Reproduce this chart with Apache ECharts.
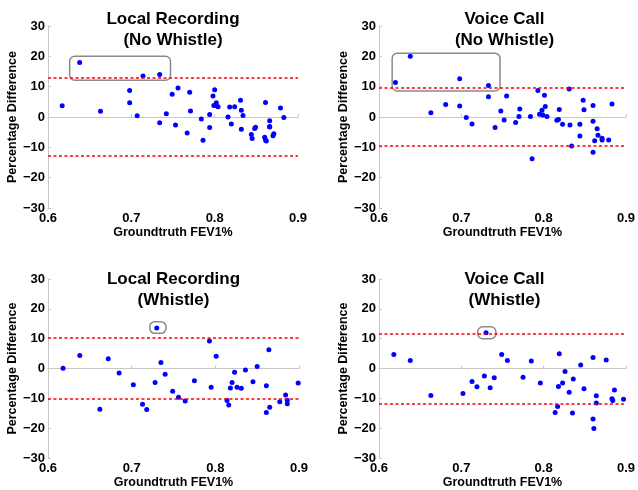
<!DOCTYPE html>
<html>
<head>
<meta charset="utf-8">
<script src="https://cdn.jsdelivr.net/npm/echarts@6/dist/echarts.min.js"></script>
<style>
  html, body { margin: 0; padding: 0; background: #fff; }
  #chart { width: 638px; height: 490px; }
</style>
</head>
<body>
<div id="chart"></div>
<script>
// panel titles
const titles = ['Local Recording\n(No Whistle)', 'Voice Call\n(No Whistle)', 'Local Recording\n(Whistle)', 'Voice Call\n(Whistle)']

// [groundtruth FEV1%, percentage difference]
const localNoWhistle = [
  [0.638, 18.0], [0.714, 13.5], [0.734, 14.0], [0.617, 3.7], [0.663, 1.9], [0.698, 8.7], [0.698, 4.7],
  [0.707, 0.4], [0.734, -1.9], [0.742, 1.1], [0.749, 7.5], [0.756, 9.6], [0.753, -2.6], [0.767, -5.3],
  [0.770, 8.2], [0.771, 2.0], [0.784, -0.7], [0.786, -7.7], [0.794, 0.8], [0.794, -3.5], [0.798, 6.9],
  [0.800, 9.0], [0.799, 3.8], [0.802, 4.7], [0.802, 3.8], [0.804, 3.4], [0.816, 0.0], [0.818, 3.3],
  [0.820, -2.3], [0.824, 3.4], [0.831, 5.5], [0.832, 2.2], [0.834, 0.5], [0.832, -4.0], [0.844, -5.8],
  [0.845, -7.1], [0.848, -3.8], [0.849, -3.4], [0.861, 4.8], [0.860, -6.7], [0.861, -7.6], [0.862, -7.9],
  [0.866, -1.2], [0.866, -3.1], [0.866, -3.3], [0.871, -5.5], [0.870, -6.2], [0.879, 3.0], [0.883, -0.2]
]
const voiceNoWhistle = [
  [0.620, 11.4], [0.638, 20.0], [0.698, 12.6], [0.733, 10.4], [0.733, 6.7], [0.663, 1.4], [0.681, 4.1],
  [0.698, 3.6], [0.706, -0.2], [0.713, -2.3], [0.741, -3.5], [0.748, 2.0], [0.752, -1.0], [0.755, 6.9],
  [0.766, -1.8], [0.770, 0.2], [0.771, 2.6], [0.784, 0.2], [0.786, -13.8], [0.793, 8.7], [0.795, 0.9],
  [0.798, 2.2], [0.799, 0.7], [0.801, 7.2], [0.802, 3.5], [0.804, 0.2], [0.816, -1.1], [0.818, -0.8],
  [0.819, 2.5], [0.823, -2.4], [0.831, 9.2], [0.832, -2.6], [0.834, -9.6], [0.844, -2.4], [0.844, -6.3],
  [0.848, 5.5], [0.849, 2.4], [0.860, 3.8], [0.860, -1.4], [0.860, -11.6], [0.862, -7.8], [0.865, -3.9],
  [0.866, -6.0], [0.871, -7.0], [0.871, -7.6], [0.879, -7.6], [0.883, 4.3]
]
const localWhistle = [
  [0.618, 0.1], [0.638, 4.4], [0.662, -13.6], [0.672, 3.3], [0.685, -1.5], [0.702, -5.4], [0.713, -12.0],
  [0.718, -13.7], [0.728, -4.7], [0.730, 13.6], [0.735, 2.0], [0.740, -1.9], [0.749, -7.6], [0.756, -9.6],
  [0.764, -10.9], [0.775, -4.1], [0.793, 9.2], [0.795, -6.3], [0.801, 4.1], [0.814, -10.7], [0.816, -12.2],
  [0.818, -6.5], [0.820, -4.7], [0.823, -1.2], [0.826, -6.3], [0.831, -6.6], [0.836, -0.5], [0.845, -4.4],
  [0.850, 0.7], [0.861, -5.8], [0.861, -14.7], [0.864, 6.3], [0.865, -13.0], [0.877, -11.1], [0.884, -8.9],
  [0.886, -11.8], [0.886, -10.6], [0.899, -4.8]
]
const voiceWhistle = [
  [0.618, 4.7], [0.638, 2.7], [0.663, -9.0], [0.702, -8.4], [0.713, -4.3], [0.719, -6.1], [0.728, -2.5],
  [0.730, 12.0], [0.735, -6.4], [0.740, -3.1], [0.749, 4.7], [0.756, 2.7], [0.775, -2.9], [0.785, 2.5],
  [0.796, -4.8], [0.814, -14.7], [0.817, -12.7], [0.818, -6.0], [0.819, 5.0], [0.823, -4.8], [0.826, -1.0],
  [0.831, -7.9], [0.836, -3.5], [0.835, -14.9], [0.845, 1.2], [0.849, -6.8], [0.860, 3.7], [0.860, -16.9],
  [0.861, -20.1], [0.864, -9.1], [0.864, -11.5], [0.876, 2.9], [0.883, -10.1], [0.884, -10.7], [0.886, -7.2],
  [0.897, -10.3]
]
const panels = [localNoWhistle, voiceNoWhistle, localWhistle, voiceWhistle]

// limits of agreement [upper, lower]
const limits = [[13.0, -12.7], [9.8, -9.6], [10.3, -10.0], [11.8, -11.7]]

// highlighted outlier boxes [x0, yTop, x1, yBottom]
const boxes = [[0.626, 20.0, 0.747, 12.1], [0.616, 21.0, 0.747, 8.6], [0.7216, 15.7, 0.741, 11.8], [0.720, 14.0, 0.742, 10.0]]

// tick labels
const xTicks = [0.6, 0.7, 0.8, 0.9]
const yTicks = [-30, -20, -10, 0, 10, 20, 30]

const font = '"Liberation Sans", Arial, Helvetica, sans-serif'
const grids = [
  { left: 48, top: 26, width: 250, height: 182 },
  { left: 379, top: 26, width: 251, height: 182 },
  { left: 48, top: 279, width: 251, height: 183 },
  { left: 379, top: 279, width: 251, height: 183 }
]
const titleTops = [9, 9, 269, 269]

const axisCommon = {
  axisLine: { lineStyle: { color: '#c8c8c8', width: 1 } },
  axisTick: { inside: true, length: 3, lineStyle: { color: '#c8c8c8' } },
  splitLine: { show: false },
  axisLabel: { color: '#000', fontWeight: 'bold', fontSize: 13, fontFamily: font },
  nameTextStyle: { color: '#000', fontWeight: 'bold', fontSize: 12.5, fontFamily: font }
}

const chart = echarts.init(document.getElementById('chart'), null, { renderer: 'canvas' })

const option = {
  animation: false,
  backgroundColor: '#fff',
  title: titles.map((t, i) => ({
    text: t,
    left: grids[i].left + grids[i].width / 2,
    top: titleTops[i],
    textAlign: 'center',
    padding: 0,
    textStyle: { fontSize: 17, fontWeight: 'bold', color: '#000', fontFamily: font, lineHeight: 21 }
  })),
  grid: grids,
  xAxis: grids.map((g, i) => ({
    ...axisCommon,
    gridIndex: i,
    type: 'value',
    min: xTicks[0],
    max: xTicks[xTicks.length - 1],
    interval: 0.1,
    name: 'Groundtruth FEV1%',
    nameLocation: 'middle',
    nameGap: 13,
    axisLabel: { ...axisCommon.axisLabel, margin: 4, formatter: v => v.toFixed(1) }
  })),
  yAxis: grids.map((g, i) => ({
    ...axisCommon,
    gridIndex: i,
    type: 'value',
    min: yTicks[0],
    max: yTicks[yTicks.length - 1],
    interval: 10,
    name: 'Percentage Difference',
    nameLocation: 'middle',
    nameGap: 24,
    axisLabel: { ...axisCommon.axisLabel, margin: 3, formatter: v => String(v).replace('-', '\u2212') }
  })),
  series: []
}

panels.forEach((pts, i) => {
  option.series.push({
    type: 'scatter',
    xAxisIndex: i,
    yAxisIndex: i,
    data: pts,
    symbolSize: 5,
    itemStyle: { color: '#0000ff', opacity: 1 },
    z: 3,
    markLine: {
      silent: true,
      symbol: 'none',
      label: { show: false },
      lineStyle: { color: '#ff0000', type: [3, 2.5], width: 1.5 },
      data: limits[i].map(v => ({ yAxis: v }))
    }
  })
  option.series.push({
    type: 'custom',
    xAxisIndex: i,
    yAxisIndex: i,
    data: [boxes[i]],
    clip: false,
    z: 4,
    renderItem: (params, api) => {
      const p0 = api.coord([api.value(0), api.value(1)])
      const p1 = api.coord([api.value(2), api.value(3)])
      return {
        type: 'rect',
        shape: { x: p0[0], y: p0[1], width: p1[0] - p0[0], height: p1[1] - p0[1], r: 5 },
        style: { fill: 'none', stroke: '#8a8a8a', lineWidth: 1.5 }
      }
    }
  })
})

chart.setOption(option)
</script>
</body>
</html>
